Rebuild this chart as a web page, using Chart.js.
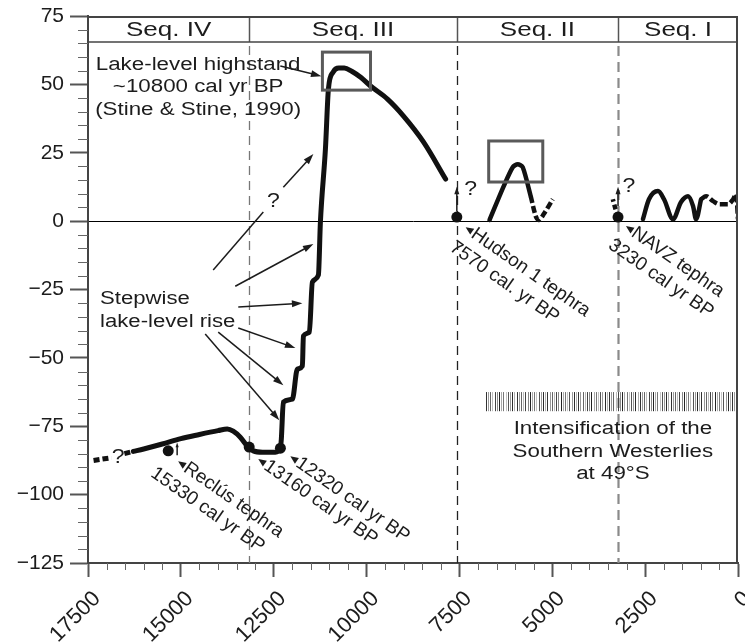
<!DOCTYPE html>
<html>
<head>
<meta charset="utf-8">
<script src="https://cdn.jsdelivr.net/npm/chart.js@4.4.0/dist/chart.umd.min.js"></script>
<style>
  html, body { margin: 0; padding: 0; background: #fff; }
  #c { display: block; width: 745px; height: 642px; }
</style>
</head>
<body>
<canvas id="c" width="745" height="642"></canvas>
<script>
// Lake level (m) against age (cal yr BP)

// Seq. IV dashed start, broken by the "?"
const seq4DashYears = [17350, 16870, 16700, 16520, 16280];
const seq4DashLevel = [-87.5, -86.5, null, -85.0, -84.2];

// main curve: Seq. IV low stand, stepwise rise, highstand and fall
const mainYears = [16280, 16000, 15500, 15000, 14500, 14000, 13750, 13590, 13400, 13190,
                   13050, 12800, 12457, 12322, 12295, 12241, 11998, 11863, 11728, 11701,
                   11540, 11459, 11297, 11243, 11108, 11027, 10900, 10750, 10600, 10400,
                   10150, 9894, 9436, 9005, 8465, 7872];
const mainLevel = [-84.2, -83.3, -81.5, -79.5, -78.0, -76.6, -76.0, -76.8, -79.0, -82.6,
                   -84.0, -84.5, -84.5, -83.0, -79.7, -66.2, -65.1, -54.1, -53.0, -42.0,
                   -40.6, -22.3, -19.7, -0.4, 26.3, 48.3, 54.5, 56.0, 56.0, 54.8,
                   52.5, 49.4, 44.6, 38.4, 28.9, 15.4];

// Seq. II
const seq2Years = [6690, 6307, 6065, 5930, 5795, 5580];
const seq2Level = [0.4, 12.8, 19.7, 20.8, 19.7, 9.1];
const seq2DashYears = [5580, 5445, 5364, 5229, 4986];
const seq2DashLevel = [9.1, 1.8, 0.4, 2.6, 8.0];

// Seq. I
const seq1StubYears = [3230, 3300, 3370];
const seq1StubLevel = [1.5, 4.5, 8.0];
const seq1Years = [2559, 2397, 2154, 1992, 1749, 1533, 1345, 1210, 1129, 994];
const seq1Level = [0.7, 8.0, 11.0, 8.0, 0.7, 7.0, 9.1, 5.5, 0.7, 8.0];
const seq1DashYears = [994, 860, 670, 509, 266, 131, 50, 0];
const seq1DashLevel = [8.0, 9.1, 7.3, 6.2, 6.2, 8.0, 9.9, 0.7];

// tephra dots
const tephraYears = [15340, 13160, 12320, 7570, 3230];
const tephraLevel = [-84.0, -82.6, -83.0, 1.5, 1.5];

// sequence boundaries and names
const seqBounds = [17500, 13160, 7570, 3230, 0];
const seqNames = ['Seq. IV', 'Seq. III', 'Seq. II', 'Seq. I'];

const FONT = "'Liberation Sans', Arial, Helvetica, sans-serif";
const INK = '#1c1c1c';
const BAND_BOTTOM = 65.5;

function pts(xs, ys) {
    return xs.map((x, i) => ({ x: x, y: ys[i] }));
}

// annotation layout, in data units
const highstandText = { year: 14534, levels: [57.0, 49.0, 40.5],
    lines: ['Lake-level highstand', '~10800 cal yr BP', '(Stine & Stine, 1990)'] };
const stepwiseText = { year: 17176, levels: [-28.5, -36.9], lines: ['Stepwise', 'lake-level rise'] };
const westerliesText = { year: 3368, levels: [-76.0, -84.5, -92.5],
    lines: ['Intensification of the', 'Southern Westerlies', 'at 49\u00b0S'] };
const questionMarks = [[16690, -86.3], [12510, 7.3], [7200, 11.5], [2940, 12.8]];

const arrows = [
    [12322, 56.7, 11216, 53.0, 11],   // highstand
    [12241, 12.4, 11432, 24.5, 11],   // "?" upper part
    [13535, -23.8, 11432, -8.4, 11],  // stepwise rise
    [13454, -31.4, 11729, -30.0, 11],
    [13454, -39.1, 11917, -46.4, 11],
    [13994, -40.6, 12241, -60.0, 11],
    [14344, -41.3, 12349, -72.8, 11],
    [7570, 3.5, 7570, 12.6, 8],       // Hudson
    [3230, 5.5, 3230, 12.6, 8],       // NAVZ
    [15100, -85.6, 15100, -80.9, 5]   // Reclus
];
const plainLines = [[14129, -17.9, 12780, 3.3]];

const boxes = [[11189, 61.8, 9894, 47.9], [6712, 29.3, 5256, 14.3]];
const hatchBar = [6790, -62.5, 0, -69.5];

const tephraNotes = [
    { year: 15073, level: -87.8, lines: ['Recl\u00fas tephra', '15330 cal yr BP'], indent: -24 },
    { year: 12915, level: -87.0, lines: ['13160 cal yr BP'] },
    { year: 12052, level: -86.0, lines: ['12320 cal yr BP'] },
    { year: 7332, level: -2.2, lines: ['Hudson 1 tephra', '7570 cal. yr BP'], indent: -10 },
    { year: 3017, level: -1.8, lines: ['NAVZ tephra', '3230 cal yr BP'], indent: -12 }
];

function stretchText(ctx, str, x, y, size, sx) {
    ctx.save();
    ctx.translate(x, y);
    ctx.scale(sx, 1);
    ctx.font = size + 'px ' + FONT;
    ctx.textAlign = 'center';
    ctx.textBaseline = 'middle';
    ctx.fillStyle = INK;
    ctx.fillText(str, 0, 0);
    ctx.restore();
}

function drawArrow(ctx, x1, y1, x2, y2, head) {
    const a = Math.atan2(y2 - y1, x2 - x1);
    ctx.beginPath();
    ctx.moveTo(x1, y1);
    ctx.lineTo(x2 - head * 0.8 * Math.cos(a), y2 - head * 0.8 * Math.sin(a));
    ctx.stroke();
    ctx.beginPath();
    ctx.moveTo(x2, y2);
    ctx.lineTo(x2 - head * Math.cos(a - 0.32), y2 - head * Math.sin(a - 0.32));
    ctx.lineTo(x2 - head * Math.cos(a + 0.32), y2 - head * Math.sin(a + 0.32));
    ctx.closePath();
    ctx.fill();
}

const backdrop = {
    id: 'backdrop',
    beforeDatasetsDraw(chart) {
        const { ctx, chartArea: a, scales: { x, y } } = chart;
        const bandY = y.getPixelForValue(BAND_BOTTOM);
        ctx.save();

        // sequence separators
        const sepStyle = {
            13160: { c: '#777', w: 1.3, d: [9, 6] },
            7570: { c: '#222', w: 1.3, d: [9, 6] },
            3230: { c: '#8a8a8a', w: 2.2, d: [10, 6] }
        };
        seqBounds.slice(1, -1).forEach(b => {
            const xp = Math.round(x.getPixelForValue(b)) + 0.5;
            const s = sepStyle[b];
            ctx.strokeStyle = '#555';
            ctx.lineWidth = 1.5;
            ctx.setLineDash([]);
            ctx.beginPath(); ctx.moveTo(xp, a.top); ctx.lineTo(xp, bandY); ctx.stroke();
            ctx.strokeStyle = s.c;
            ctx.lineWidth = s.w;
            ctx.setLineDash(s.d);
            ctx.beginPath(); ctx.moveTo(xp, bandY + 4); ctx.lineTo(xp, a.bottom); ctx.stroke();
        });
        ctx.setLineDash([]);

        // hatched westerlies bar
        const hx0 = x.getPixelForValue(hatchBar[0]), hx1 = x.getPixelForValue(hatchBar[2]);
        const hy0 = y.getPixelForValue(hatchBar[1]), hy1 = y.getPixelForValue(hatchBar[3]);
        const shades = ['#333', '#999', '#666', '#bbb', '#444', '#888', '#222', '#aaa', '#777', '#c4c4c4', '#555', '#999', '#2a2a2a', '#b0b0b0'];
        ctx.lineWidth = 1;
        for (let i = 0, xp = hx0; xp <= hx1; i++, xp += 2.2) {
            ctx.strokeStyle = shades[i % shades.length];
            ctx.beginPath(); ctx.moveTo(Math.round(xp) + 0.5, hy0); ctx.lineTo(Math.round(xp) + 0.5, hy1); ctx.stroke();
        }
        ctx.restore();
    },
    afterDatasetsDraw(chart) {
        const { ctx, chartArea: a, scales: { x, y } } = chart;
        const P = (v, l) => [x.getPixelForValue(v), y.getPixelForValue(l)];
        ctx.save();

        // frame top/right and band line
        ctx.strokeStyle = '#444';
        ctx.lineWidth = 2;
        ctx.beginPath();
        ctx.moveTo(a.left, a.top + 1); ctx.lineTo(a.right - 1, a.top + 1); ctx.lineTo(a.right - 1, a.bottom);
        ctx.stroke();
        const bandY = Math.round(y.getPixelForValue(BAND_BOTTOM));
        ctx.lineWidth = 1.6;
        ctx.beginPath(); ctx.moveTo(a.left, bandY); ctx.lineTo(a.right, bandY); ctx.stroke();

        // minor ticks
        ctx.strokeStyle = '#666';
        ctx.lineWidth = 1;
        for (let v = 500; v < 17500; v += 500) {
            if (v % 2500 === 0) continue;
            const xp = Math.round(x.getPixelForValue(v)) + 0.5;
            ctx.beginPath(); ctx.moveTo(xp, a.bottom); ctx.lineTo(xp, a.bottom + 7); ctx.stroke();
        }
        for (let v = -120; v < 75; v += 5) {
            if (v % 25 === 0) continue;
            const yp = Math.round(y.getPixelForValue(v)) + 0.5;
            ctx.beginPath(); ctx.moveTo(a.left, yp); ctx.lineTo(a.left - 10, yp); ctx.stroke();
        }

        // sequence names
        seqNames.forEach((n, i) => {
            const cx = (x.getPixelForValue(seqBounds[i]) + x.getPixelForValue(seqBounds[i + 1])) / 2;
            stretchText(ctx, n, cx, (a.top + bandY) / 2 + 1, 20, 1.3);
        });

        // boxes
        ctx.strokeStyle = '#5a5a5a';
        ctx.lineWidth = 3;
        boxes.forEach(b => {
            const [x0, y0] = P(b[0], b[1]);
            const [x1, y1] = P(b[2], b[3]);
            ctx.strokeRect(x0, y0, x1 - x0, y1 - y0);
        });

        // arrows
        ctx.strokeStyle = INK;
        ctx.fillStyle = INK;
        ctx.lineWidth = 1.5;
        arrows.forEach(r => {
            const [x0, y0] = P(r[0], r[1]);
            const [x1, y1] = P(r[2], r[3]);
            drawArrow(ctx, x0, y0, x1, y1, r[4]);
        });
        plainLines.forEach(r => {
            const [x0, y0] = P(r[0], r[1]);
            const [x1, y1] = P(r[2], r[3]);
            ctx.beginPath(); ctx.moveTo(x0, y0); ctx.lineTo(x1, y1); ctx.stroke();
        });

        // horizontal texts
        [highstandText, westerliesText].forEach(t => {
            t.lines.forEach((s, i) => {
                const [xp, yp] = P(t.year, t.levels[i]);
                stretchText(ctx, s, xp, yp, 18, 1.24);
            });
        });
        stepwiseText.lines.forEach((s, i) => {
            const [xp, yp] = P(stepwiseText.year, stepwiseText.levels[i]);
            ctx.save();
            ctx.translate(xp, yp);
            ctx.scale(1.23, 1);
            ctx.font = '18px ' + FONT;
            ctx.textAlign = 'left';
            ctx.textBaseline = 'middle';
            ctx.fillStyle = INK;
            ctx.fillText(s, 0, 0);
            ctx.restore();
        });
        questionMarks.forEach(q => {
            const [xp, yp] = P(q[0], q[1]);
            stretchText(ctx, '?', xp, yp, 20, 1.15);
        });

        // rotated tephra labels
        tephraNotes.forEach(n => {
            const [xp, yp] = P(n.year, n.level);
            ctx.save();
            ctx.translate(xp, yp);
            ctx.rotate(35 * Math.PI / 180);
            ctx.fillStyle = INK;
            ctx.beginPath();
            ctx.moveTo(0, 0); ctx.lineTo(8, -3.5); ctx.lineTo(8, 3.5); ctx.closePath();
            ctx.fill();
            ctx.font = '19px ' + FONT;
            ctx.textAlign = 'left';
            ctx.textBaseline = 'middle';
            n.lines.forEach((s, i) => {
                ctx.fillText(s, 9 + (i ? n.indent : 0), i * 23);
            });
            ctx.restore();
        });
        ctx.restore();
    }
};

const thick = { borderColor: '#111', borderWidth: 5, pointRadius: 0, fill: false, borderCapStyle: 'round', borderJoinStyle: 'round' };

function noSidePadding(s) {
    s.paddingLeft = 0;
    s.paddingRight = 0;
    s.paddingTop = 0;
    s.paddingBottom = 0;
}

new Chart(document.getElementById('c'), {
    type: 'line',
    data: {
        datasets: [
            Object.assign({ data: pts(seq4DashYears, seq4DashLevel), borderDash: [6, 3], tension: 0 }, thick, { borderCapStyle: 'butt' }),
            Object.assign({ data: pts(mainYears, mainLevel), cubicInterpolationMode: 'monotone' }, thick),
            Object.assign({ data: pts(seq2Years, seq2Level), tension: 0.25 }, thick, { borderWidth: 4.5 }),
            Object.assign({ data: pts(seq2DashYears, seq2DashLevel), tension: 0.3, borderDash: [7, 3] }, thick, { borderWidth: 4.5, borderCapStyle: 'butt' }),
            Object.assign({ data: pts(seq1StubYears, seq1StubLevel), tension: 0, borderDash: [5, 3] }, thick, { borderWidth: 4.5, borderCapStyle: 'butt' }),
            Object.assign({ data: pts(seq1Years, seq1Level), cubicInterpolationMode: 'monotone' }, thick, { borderWidth: 4.5 }),
            Object.assign({ data: pts(seq1DashYears, seq1DashLevel), cubicInterpolationMode: 'monotone', borderDash: [8, 3] }, thick, { borderWidth: 4.5, borderCapStyle: 'butt' }),
            {
                type: 'scatter',
                data: pts(tephraYears, tephraLevel),
                pointRadius: 5.5,
                pointBackgroundColor: '#111',
                pointBorderWidth: 0,
                showLine: false
            }
        ]
    },
    options: {
        responsive: false,
        animation: false,
        events: [],
        layout: { padding: { top: 16, right: 7, left: 0, bottom: 0 } },
        plugins: { legend: { display: false }, tooltip: { enabled: false } },
        scales: {
            x: {
                type: 'linear',
                reverse: true,
                min: 0,
                max: 17500,
                afterFit: s => { s.height = 79; noSidePadding(s); },
                border: { color: '#444', width: 2 },
                grid: { drawOnChartArea: false, tickLength: 14, tickColor: '#555', tickWidth: 2 },
                ticks: {
                    stepSize: 2500,
                    maxRotation: 45,
                    minRotation: 45,
                    padding: 9,
                    labelOffset: 9,
                    color: INK,
                    font: { family: FONT, size: 22 },
                    callback: v => String(v)
                }
            },
            y: {
                min: -125,
                max: 75,
                afterFit: s => { s.width = 88; noSidePadding(s); },
                border: { color: '#444', width: 2 },
                grid: {
                    color: c => (c.tick && c.tick.value === 0 ? '#000' : 'rgba(0,0,0,0)'),
                    lineWidth: 1,
                    tickLength: 18,
                    tickColor: '#555',
                    tickWidth: 2
                },
                ticks: {
                    stepSize: 25,
                    padding: 6,
                    color: INK,
                    font: { family: FONT, size: 21 },
                    callback: v => (v < 0 ? '\u2212' + Math.abs(v) : String(v))
                }
            }
        }
    },
    plugins: [backdrop]
});
</script>
</body>
</html>
